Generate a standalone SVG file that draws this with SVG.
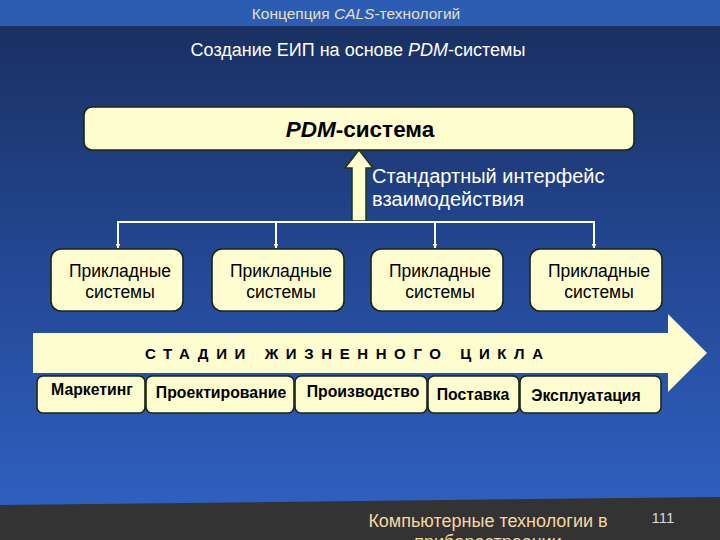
<svg xmlns="http://www.w3.org/2000/svg" width="720" height="540" viewBox="0 0 720 540">
<defs>
<linearGradient id="bg" x1="0" y1="0" x2="0" y2="1">
<stop offset="0" stop-color="#1a3062"/>
<stop offset="0.45" stop-color="#234792"/>
<stop offset="1" stop-color="#3063c6"/>
</linearGradient>
<marker id="ah" viewBox="0 0 10 10" refX="9" refY="5" markerWidth="5" markerHeight="5" orient="auto" markerUnits="userSpaceOnUse">
<path d="M0,0 L10,5 L0,10 z" fill="#ffffff"/>
</marker>
<style>
.box{fill:#fdfdd0;stroke:#1b2614;stroke-width:1.6}
.t{font-family:"Liberation Sans",Arial,sans-serif;fill:#000;text-anchor:middle}
.w{font-family:"Liberation Sans",Arial,sans-serif;fill:#fff}
.conn{stroke:#fff;stroke-width:2;fill:none}
.app{font-size:17.5px}
.st{font-size:15.8px;font-weight:bold}
</style>
</defs>
<rect x="0" y="26" width="720" height="514" fill="url(#bg)"/>
<rect x="0" y="0" width="720" height="26" fill="#2d5db3"/>
<text x="356" y="19" font-family="Liberation Sans, Arial, sans-serif" font-size="15.5" fill="#e4e0c8" text-anchor="middle">Концепция <tspan font-style="italic">CALS</tspan>-технологий</text>
<text x="358" y="56" class="w" font-size="18" text-anchor="middle">Создание ЕИП на основе <tspan font-style="italic">PDM</tspan>-системы</text>

<g id="pdm">
<rect class="box" x="84" y="107" width="550" height="43" rx="8"/>
<text class="t" x="360" y="137" font-size="22.5" font-weight="bold"><tspan font-style="italic">PDM</tspan>-система</text>
</g>

<g id="connectors">
<polygon points="352,221 366,221 366,168 373,168 359,150 345,168 352,168" fill="#fdfdd0" stroke="#1b3a14" stroke-width="1.5"/>
<line class="conn" x1="117" y1="222" x2="595" y2="222"/>
<line class="conn" x1="118" y1="222" x2="118" y2="248" marker-end="url(#ah)"/>
<line class="conn" x1="276" y1="222" x2="276" y2="248" marker-end="url(#ah)"/>
<line class="conn" x1="435" y1="222" x2="435" y2="248" marker-end="url(#ah)"/>
<line class="conn" x1="594" y1="222" x2="594" y2="248" marker-end="url(#ah)"/>
</g>
<text class="w" x="372" y="183" font-size="20">Стандартный интерфейс</text>
<text class="w" x="372" y="206" font-size="20">взаимодействия</text>

<g id="app1">
<rect class="box" x="51" y="249" width="132" height="62" rx="10"/>
<text class="t app" x="120" y="277">Прикладные</text>
<text class="t app" x="120" y="298">системы</text>
</g>
<g id="app2">
<rect class="box" x="212" y="249" width="132" height="62" rx="10"/>
<text class="t app" x="281" y="277">Прикладные</text>
<text class="t app" x="281" y="298">системы</text>
</g>
<g id="app3">
<rect class="box" x="371" y="249" width="132" height="62" rx="10"/>
<text class="t app" x="440" y="277">Прикладные</text>
<text class="t app" x="440" y="298">системы</text>
</g>
<g id="app4">
<rect class="box" x="530" y="249" width="132" height="62" rx="10"/>
<text class="t app" x="599" y="277">Прикладные</text>
<text class="t app" x="599" y="298">системы</text>
</g>

<g id="lifecycle">
<polygon points="33,333 668,333 668,314 707,353 668,392 668,373 33,373" fill="#fdfdd0"/>
<text x="145" y="359" font-family="Liberation Sans, Arial, sans-serif" font-size="15" font-weight="bold" letter-spacing="7.6" fill="#000">СТАДИИ ЖИЗНЕННОГО ЦИКЛА</text>
</g>

<g id="marketing">
<rect class="box" x="37" y="376" width="108" height="37" rx="6"/>
<text class="t st" x="92" y="395">Маркетинг</text>
</g>
<g id="design">
<rect class="box" x="146" y="376" width="148" height="37" rx="6"/>
<text class="t st" x="221" y="398">Проектирование</text>
</g>
<g id="production">
<rect class="box" x="295" y="376" width="132" height="37" rx="6"/>
<text class="t st" x="363" y="397">Производство</text>
</g>
<g id="delivery">
<rect class="box" x="428" y="376" width="91" height="37" rx="6"/>
<text class="t st" x="473" y="400">Поставка</text>
</g>
<g id="operation">
<rect class="box" x="520" y="376" width="141" height="37" rx="6"/>
<text class="t st" x="586" y="401">Эксплуатация</text>
</g>

<polygon points="0,505 720,497 720,540 0,540" fill="#333333"/>
<text x="488" y="527" font-family="Liberation Sans, Arial, sans-serif" font-size="18" fill="#f5d8a2" text-anchor="middle">Компьютерные технологии в</text>
<text x="488" y="548" font-family="Liberation Sans, Arial, sans-serif" font-size="18" fill="#f5d8a2" text-anchor="middle">приборостроении</text>
<text x="663" y="523" font-family="Liberation Sans, Arial, sans-serif" font-size="15" fill="#d8d8d8" text-anchor="middle">111</text>
</svg>
